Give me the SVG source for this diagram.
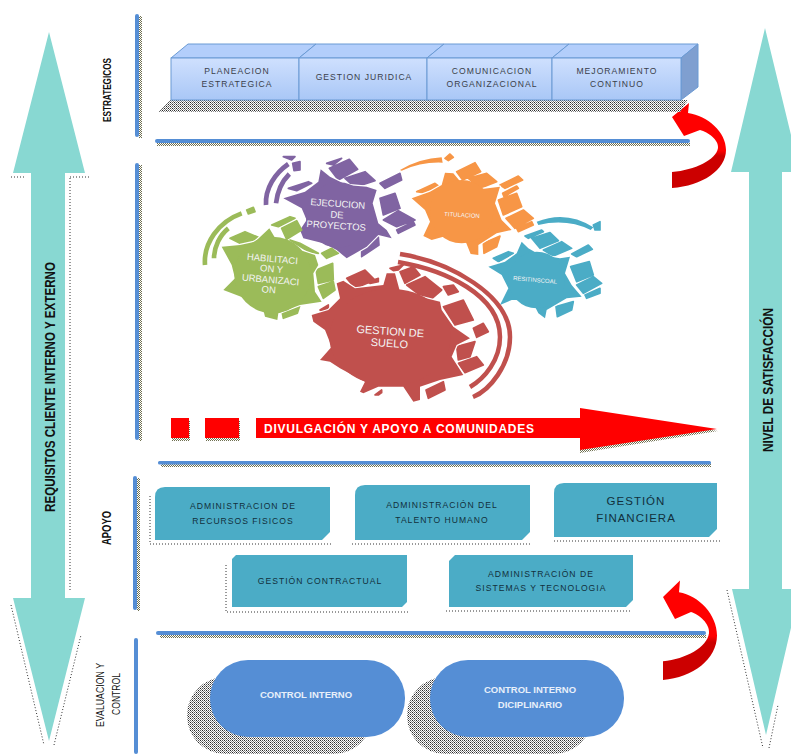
<svg xmlns="http://www.w3.org/2000/svg" width="791" height="754" viewBox="0 0 791 754">
<style>
text{font-family:"Liberation Sans",Arial,sans-serif}
.bar{fill:#558ED5}
.teal{fill:#4BACC6}
.pill{fill:#558ED5}
.big{fill:#88D8D2}
.face{fill:url(#front);stroke:#6A9AD4;stroke-width:1}
.top{fill:#B3CEFB;stroke:#6A9AD4;stroke-width:1}
.lab{font-size:8.6px;letter-spacing:1px;fill:#3A3F4A;text-anchor:middle}
.tl{font-size:8.6px;letter-spacing:1px;fill:#12303C;text-anchor:middle}
.pl{font-size:9.5px;font-weight:bold;fill:#E8F0FA;text-anchor:middle}
.side{font-weight:bold;fill:#111;text-anchor:middle}
.gt{fill:#F4F4F4;text-anchor:middle}
.dotline{fill:none;stroke:#333;stroke-width:1;stroke-dasharray:1 2}
.body{stroke:#fff;stroke-width:7;paint-order:stroke;stroke-linejoin:round}
.blk{stroke-width:5;stroke-linejoin:round}
</style>
<defs>
<linearGradient id="front" x1="0" y1="0" x2="0" y2="1"><stop offset="0" stop-color="#CFE0FE"/><stop offset="1" stop-color="#A9C7F6"/></linearGradient>
<linearGradient id="curve" x1="0" y1="0" x2="0" y2="1"><stop offset=".56" stop-color="#FF0000"/><stop offset=".62" stop-color="#CC0000"/></linearGradient>
<pattern id="dots" width="4" height="4" patternUnits="userSpaceOnUse"><rect width="4" height="4" fill="#fff"/><rect width="1" height="1" fill="#222"/><rect x="2" width="1" height="1" fill="#555"/><rect x="1" y="1" width="1" height="1" fill="#777"/><rect x="3" y="1" width="1" height="1" fill="#999"/><rect y="2" width="1" height="1" fill="#555"/><rect x="2" y="2" width="1" height="1" fill="#222"/><rect x="1" y="3" width="1" height="1" fill="#999"/><rect x="3" y="3" width="1" height="1" fill="#777"/></pattern>
<pattern id="olive" width="2" height="2" patternUnits="userSpaceOnUse"><rect width="2" height="2" fill="#fff"/><rect width="1" height="1" fill="#6F7050"/><rect x="1" y="1" width="1" height="1" fill="#6F7050"/></pattern>
<path id="curved" d="M672,117 L689,103 L688,113 C708,116 726,132 726,150 C726,170 702,186 672,188 L672,172 C695,170 716,160 718,148 C719,140 708,132 700,130 L684,136 Z"/>
</defs>

<g id="left-arrow"><path class="big" d="M49,32 L85,173 H65 V598 H85 L49,741 L13,598 H31 V173 H13 Z"/><path class="dotline" d="M70,178 V592 M11,605 L44,745 M54,745 L81,635 M11,177 H26 M70,177 H90"/></g>
<g id="right-arrow"><path class="big" d="M765,28 L800,172 H782 V589 H800 L766,735 L732,589 H749 V172 H731 Z"/><path class="dotline" d="M727,590 L763,748 M769,748 L778,705"/></g>

<g id="section-bars">
<rect x="139" y="16" width="3" height="122" fill="url(#olive)"/><rect class="bar" x="135" y="14" width="4" height="123" rx="2"/>
<rect x="139" y="165" width="3" height="276" fill="url(#olive)"/><rect class="bar" x="135" y="163" width="4" height="277" rx="2"/>
<rect x="137" y="478" width="3" height="133" fill="url(#olive)"/><rect class="bar" x="133" y="476" width="4" height="134" rx="2"/>
<rect class="bar" x="134" y="638" width="4" height="116" rx="2"/>
<rect x="157" y="143" width="533" height="3" fill="url(#olive)"/><rect class="bar" x="155" y="139" width="535" height="4" rx="2"/>
<rect x="161" y="464" width="550" height="3" fill="url(#olive)"/><rect class="bar" x="158" y="461" width="553" height="3.5" rx="1.5"/>
<rect x="160" y="635" width="546" height="3" fill="url(#olive)"/><rect class="bar" x="156" y="631" width="550" height="4" rx="2"/>
</g>

<g id="connectors">
<use href="#curved" fill="url(#curve)"/>
<use href="#curved" fill="url(#curve)" transform="translate(-9,460) scale(1,1.17)"/>
</g>

<text class="side" font-size="10" transform="translate(111,90) rotate(-90)" textLength="64" lengthAdjust="spacingAndGlyphs">ESTRATEGICOS</text>
<text class="side" font-size="12" transform="translate(111,528) rotate(-90)" textLength="34" lengthAdjust="spacingAndGlyphs">APOYO</text>
<text class="side" font-size="10" style="font-weight:normal" transform="translate(104,695) rotate(-90)" textLength="64" lengthAdjust="spacingAndGlyphs">EVALUACION Y</text>
<text class="side" font-size="10" style="font-weight:normal" transform="translate(120,694) rotate(-90)" textLength="42" lengthAdjust="spacingAndGlyphs">CONTROL</text>
<text class="side" font-size="14" transform="translate(55,387) rotate(-90)" textLength="250" lengthAdjust="spacingAndGlyphs">REQUISITOS CLIENTE INTERNO Y EXTERNO</text>
<text class="side" font-size="14" transform="translate(773,380) rotate(-90)" textLength="144" lengthAdjust="spacingAndGlyphs">NIVEL DE SATISFACCIÓN</text>

<g id="strategic-shadow"><path d="M170,100 H688 L680,112 H158 Z" fill="url(#dots)"/></g>
<g id="planeacion"><path class="top" d="M171,58 L188,44 H316 L299,58 Z"/><rect class="face" x="171" y="58" width="128" height="42"/><text class="lab" x="237" y="74">PLANEACION</text><text class="lab" x="237" y="87">ESTRATEGICA</text></g>
<g id="juridica"><path class="top" d="M299,58 L316,44 H444 L427,58 Z"/><rect class="face" x="299" y="58" width="128" height="42"/><text class="lab" x="364" y="80">GESTION JURIDICA</text></g>
<g id="comunicacion"><path class="top" d="M427,58 L444,44 H569 L552,58 Z"/><rect class="face" x="427" y="58" width="125" height="42"/><text class="lab" x="492" y="74">COMUNICACION</text><text class="lab" x="492" y="87">ORGANIZACIONAL</text></g>
<g id="mejoramiento"><path class="top" d="M552,58 L569,44 H698 L681,58 Z"/><path d="M681,58 L698,44 V87 L681,100 Z" fill="#7F9FD0" stroke="#6A9AD4"/><rect class="face" x="552" y="58" width="129" height="42"/><text class="lab" x="617" y="74">MEJORAMIENTO</text><text class="lab" x="617" y="87">CONTINUO</text></g>

<g id="gear-ejecucion">
<g fill="#8064A2" transform="translate(190,150) scale(.33333)">
<path class="blk" stroke="#8064A2" d="M410,40 L455,25 L430,45 Z M418,55 L478,28 L503,58 L445,90 Z M465,85 L525,65 L555,92 L495,112 Z M295,115 L355,95 L365,100 L320,122 Z M515,285 L565,260 L567,285 L515,320 Z M308,40 L330,35 L330,60 L312,62 Z M280,20 L315,20 L305,30 Z M570,100 L630,70 L635,90 L585,115 Z M570,145 L615,130 L630,175 L580,195 Z M580,210 L625,182 L675,210 L620,230 Z M620,240 L670,215 L675,225 L625,250 Z"/>
<path class="body" d="M280,145 L345,125 L385,95 L392,58 L420,80 L470,105 L530,110 L560,120 L548,160 L565,220 L590,240 L605,265 L565,255 L530,290 L470,325 L440,300 L400,280 L340,265 L330,240 L350,210 L335,175 Z"/>
<circle cx="445" cy="195" r="98"/>
<path d="M228,165 C225,115 255,70 295,42 M258,160 C262,125 275,95 298,72" fill="none" stroke="#8064A2" stroke-width="14"/>
</g>
<g class="gt" font-size="9.5" transform="rotate(4 337 215)"><text x="337" y="207">EJECUCION</text><text x="337" y="218">DE</text><text x="337" y="229">PROYECTOS</text></g>
</g>

<g id="gear-titulacion">
<g fill="#F79646" transform="translate(380,150) scale(.33333)">
<path class="blk" stroke="#F79646" d="M110,125 L165,100 L175,108 L130,128 Z M230,65 L285,38 L302,65 L248,90 Z M265,85 L320,70 L350,95 L300,115 Z M360,105 L415,78 L428,90 L375,115 Z M368,130 L410,108 L415,115 L372,140 Z M355,150 L410,130 L425,170 L370,195 Z M378,205 L430,180 L460,205 L405,235 Z M410,235 L455,215 L460,225 L415,245 Z M310,280 L360,258 L350,290 L312,310 Z M195,25 L210,12 L220,22 L205,32 Z"/>
<path d="M60,60 Q120,25 185,22 L188,38 Q125,35 65,62 Z"/>
<path class="body" d="M95,145 L150,125 L185,105 L195,68 L220,70 L245,100 L300,118 L360,110 L345,160 L365,210 L395,240 L350,250 L295,285 L295,315 L272,312 L255,270 L190,260 L155,270 L130,258 L150,215 L135,180 Z"/>
<circle cx="245" cy="185" r="95"/>
</g>
<text class="gt" font-size="6" x="462" y="217" transform="rotate(3 462 215)">TITULACION</text>
</g>

<g id="gear-resti">
<g fill="#4BACC6" transform="translate(380,150) scale(.33333)">
<path class="blk" stroke="#4BACC6" d="M340,325 L385,305 L400,310 L355,335 Z M435,258 L485,240 L490,245 L445,265 Z M455,265 L510,248 L535,272 L480,295 Z M490,300 L545,275 L575,295 L520,318 Z M575,312 L625,285 L637,298 L590,320 Z M572,350 L628,335 L640,375 L590,395 Z M590,405 L640,380 L665,400 L610,430 Z M615,435 L660,415 L660,430 L620,445 Z M528,470 L580,455 L575,480 L532,500 Z M640,225 L660,215 L660,240 L645,240 Z"/>
<path d="M470,215 Q560,180 640,232 L632,240 Q560,205 475,225 Z"/>
<path class="body" d="M325,350 L375,335 L410,310 L425,275 L445,295 L480,315 L540,325 L570,320 L555,370 L575,405 L605,440 L560,445 L500,480 L495,505 L475,490 L455,450 L395,450 L360,465 L385,415 L365,375 Z"/>
<circle cx="470" cy="390" r="85"/>
</g>
<text class="gt" font-size="6" x="535" y="282" transform="rotate(5 535 280)">RESITINSCOAL</text>
</g>

<g id="gear-habilitacion">
<g fill="#9BBB59" transform="translate(190,150) scale(.33333)">
<path class="blk" stroke="#9BBB59" d="M120,265 L165,245 L205,262 L160,285 Z M245,225 L300,200 L315,205 L265,230 Z M275,235 L320,212 L335,240 L290,268 Z M300,270 L330,280 L385,310 L355,305 Z M395,310 L425,295 L445,310 L410,325 Z M378,360 L428,340 L430,390 L385,400 Z M385,410 L430,395 L435,420 L400,445 Z M275,480 L330,465 L322,490 L280,505 Z M170,180 L190,172 L195,185 L175,192 Z"/>
<path class="body" d="M95,290 L150,285 L195,275 L238,235 L262,275 L300,290 L375,315 L385,345 L370,370 L375,425 L395,455 L330,465 L265,490 L262,510 L225,500 L215,460 L165,445 L100,420 L135,385 L125,345 Z"/>
<circle cx="248" cy="375" r="115"/>
<path d="M45,345 C40,280 85,215 155,190 M72,325 C72,290 90,255 115,235" fill="none" stroke="#9BBB59" stroke-width="14"/>
</g>
<g class="gt" font-size="9.5" transform="rotate(5 271 275)"><text x="271" y="262">HABILITACI</text><text x="271" y="272">ON Y</text><text x="271" y="283">URBANIZACI</text><text x="270" y="293">ON</text></g>
</g>

<g id="gear-suelo">
<g fill="#C0504D" transform="translate(300,250) scale(.33333)">
<path class="blk" stroke="#C0504D" d="M140,85 L195,60 L225,90 L165,115 Z M205,95 L235,85 L235,95 L210,100 Z M270,55 L310,45 L295,60 L280,62 Z M300,65 L340,50 L360,75 L315,100 Z M320,105 L375,80 L425,120 L385,155 Z M430,110 L460,105 L475,125 L445,135 Z M430,170 L490,150 L520,210 L465,225 Z M520,235 L550,220 L565,245 L530,262 Z M470,290 L525,275 L510,320 L475,330 Z M475,340 L530,320 L550,345 L495,368 Z M378,420 L430,395 L435,420 L385,445 Z M225,435 L245,420 L245,428 L235,435 Z M60,180 L85,165 L85,175 L65,182 Z"/>
<path class="body" d="M35,195 L85,180 L120,145 L110,100 L130,92 L165,115 L250,105 L260,70 L285,70 L300,125 L420,155 L425,180 L460,230 L510,265 L470,285 L455,320 L490,375 L420,390 L360,410 L360,450 L340,455 L310,410 L235,410 L190,430 L180,425 L195,395 L120,355 L90,335 L60,330 L95,290 L75,240 L40,215 Z"/>
<ellipse cx="270" cy="262" rx="182" ry="146"/>
</g>
<path d="M400,254 C450,262 510,295 510,337 C510,365 490,390 473,397 M398,262 C445,270 500,295 500,337 C500,360 485,378 470,387" fill="none" stroke="#C0504D" stroke-width="4.5"/>
<g class="gt" font-size="11" transform="rotate(4 390 335)"><text x="390" y="335">GESTION DE</text><text x="390" y="347">SUELO</text></g>
</g>

<g id="divulgacion">
<rect x="172" y="421" width="18" height="20" fill="url(#olive)"/><rect x="206" y="421" width="34" height="20" fill="url(#olive)"/>
<path d="M258,421 H580 V453 L718,431 L580,411 V421 Z" fill="url(#olive)"/>
<rect x="171" y="418" width="18" height="20" fill="#F00"/><rect x="205" y="418" width="34" height="20" fill="#F00"/>
<path d="M256,418 H580 V408 L717,429 L580,450 V438 H256 Z" fill="#F00"/>
<text x="264" y="433" font-size="12" font-weight="bold" fill="#fff" textLength="270">DIVULGACIÓN Y APOYO A COMUNIDADES</text>
</g>

<g id="recursos"><path class="dotline" d="M150,496 V544 H332"/><path class="teal" d="M165,487 H330 V532 L322,540 H155 V497 Q155,487 165,487 Z"/><text class="tl" x="243" y="509">ADMINISTRACION DE</text><text class="tl" x="243" y="524">RECURSOS FISICOS</text></g>
<g id="talento"><path class="dotline" d="M352,544 H532"/><path class="teal" d="M365,485 H530 V532 L522,540 H355 V495 Q355,485 365,485 Z"/><text class="tl" x="442" y="508">ADMINISTRACIÓN DEL</text><text class="tl" x="442" y="523">TALENTO HUMANO</text></g>
<g id="financiera"><path class="dotline" d="M554,541 H720"/><path class="teal" d="M564,483 H717 V529 L709,537 H554 V493 Q554,483 564,483 Z"/><text class="tl" style="font-size:11.5px" x="636" y="505">GESTIÓN</text><text class="tl" style="font-size:11.5px" x="636" y="522">FINANCIERA</text></g>
<g id="contractual"><path class="dotline" d="M226,565 V612 H408"/><path class="teal" d="M236,555 H407 V602 L402,607 H232 V559 Z"/><text class="tl" x="320" y="584">GESTIÓN CONTRACTUAL</text></g>
<g id="sistemas"><path class="dotline" d="M446,611 H630"/><path class="teal" d="M455,555 H633 V600 L626,607 H449 V561 Z"/><text class="tl" x="541" y="577">ADMINISTRACIÓN DE</text><text class="tl" x="541" y="591">SISTEMAS Y TECNOLOGIA</text></g>

<g id="control-interno"><rect x="187" y="677" width="185" height="77" rx="38" fill="url(#dots)"/><rect class="pill" x="210" y="660" width="195" height="77" rx="38"/><text class="pl" x="306" y="698">CONTROL INTERNO</text></g>
<g id="control-diciplinario"><rect x="407" y="677" width="185" height="77" rx="38" fill="url(#dots)"/><rect class="pill" x="430" y="660" width="194" height="77" rx="38"/><text class="pl" x="530" y="693">CONTROL INTERNO</text><text class="pl" x="530" y="708">DICIPLINARIO</text></g>
</svg>
